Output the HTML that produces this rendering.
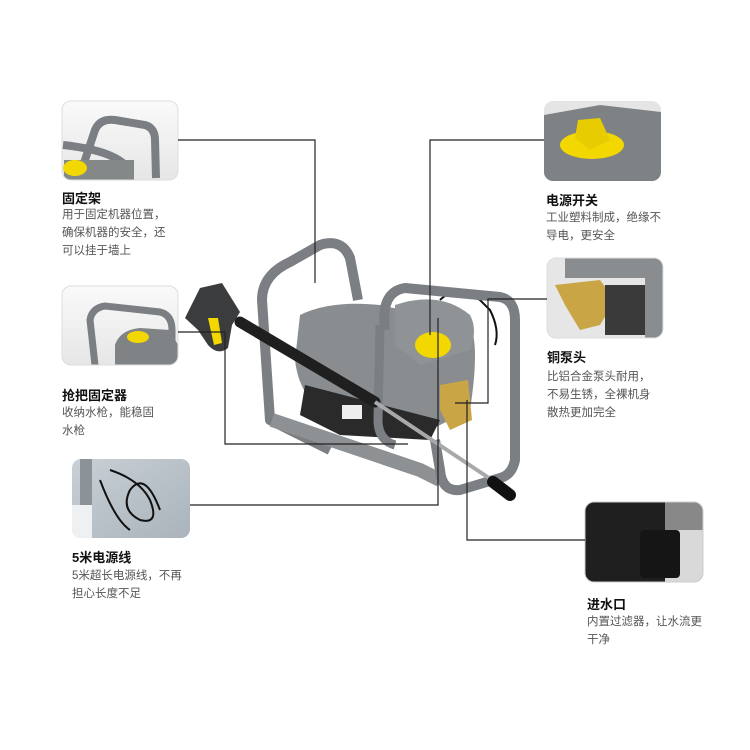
<!DOCTYPE html>
<html><head><meta charset="utf-8"><style>
body{margin:0;background:#fff;}
#c{position:relative;width:750px;height:750px;overflow:hidden;font-family:"Liberation Sans","Noto Sans CJK SC",sans-serif;}
.t{position:absolute;font-size:13px;font-weight:bold;color:#111;}
.d{position:absolute;font-size:11.5px;color:#555;line-height:18px;}
svg{position:absolute;left:0;top:0}
</style></head><body><div id="c">
<svg width="750" height="750" viewBox="0 0 750 750">
<defs>
<linearGradient id="bg1" x1="0" y1="0" x2="0" y2="1"><stop offset="0" stop-color="#fafafa"/><stop offset="1" stop-color="#e6e6e6"/></linearGradient>
<linearGradient id="bg2" x1="0" y1="0" x2="1" y2="1"><stop offset="0" stop-color="#c9d0d6"/><stop offset="1" stop-color="#aab3bb"/></linearGradient>
<clipPath id="k1"><rect x="62" y="101" width="116" height="79" rx="9"/></clipPath>
<clipPath id="k2"><rect x="62" y="286" width="116" height="79" rx="9"/></clipPath>
<clipPath id="k3"><rect x="72" y="459" width="118" height="79" rx="9"/></clipPath>
<clipPath id="k4"><rect x="544" y="101" width="117" height="80" rx="9"/></clipPath>
<clipPath id="k5"><rect x="547" y="258" width="116" height="80" rx="9"/></clipPath>
<clipPath id="k6"><rect x="585" y="502" width="118" height="80" rx="9"/></clipPath>
</defs>
<g clip-path="url(#k1)">
<rect x="62" y="101" width="116" height="79" fill="url(#bg1)"/>
<path d="M80 175 L95 130 Q100 118 115 120 L145 125 Q155 128 155 140 L156 178" fill="none" stroke="#7b7e82" stroke-width="8"/>
<path d="M63 145 Q110 150 125 165 L130 178" fill="none" stroke="#7b7e82" stroke-width="8"/>
<rect x="64" y="160" width="70" height="20" fill="#858889"/>
<ellipse cx="75" cy="168" rx="12" ry="8" fill="#f2d800"/>
</g>
<rect x="62" y="101" width="116" height="79" rx="9" fill="none" stroke="#ddd"/>
<g clip-path="url(#k2)">
<rect x="62" y="286" width="116" height="79" fill="url(#bg1)"/>
<path d="M95 365 L90 320 Q92 308 105 306 L160 312 Q172 315 172 330 L172 365" fill="none" stroke="#7b7e82" stroke-width="7"/>
<path d="M115 365 L115 345 Q120 330 140 328 L170 330 L178 345 L178 365 Z" fill="#808385"/>
<ellipse cx="138" cy="337" rx="11" ry="6" fill="#f2d800"/>
</g>
<rect x="62" y="286" width="116" height="79" rx="9" fill="none" stroke="#ddd"/>
<g clip-path="url(#k3)">
<rect x="72" y="459" width="118" height="79" fill="url(#bg2)"/>
<rect x="80" y="459" width="12" height="79" fill="#8d9296"/>
<rect x="72" y="505" width="20" height="33" fill="#eef0f2"/>
<path d="M110 470 Q140 480 150 500 Q160 525 140 520 Q120 510 130 490 Q145 470 160 510 M100 480 Q115 520 130 530" fill="none" stroke="#111" stroke-width="2"/>
</g>
<g clip-path="url(#k4)">
<rect x="544" y="101" width="117" height="80" fill="#e5e5e5"/>
<path d="M544 115 L600 105 L661 112 L661 181 L544 181 Z" fill="#7f8285"/>
<ellipse cx="592" cy="145" rx="32" ry="14" fill="#f2d800"/>
<path d="M578 120 L600 118 L610 140 L590 150 L575 138 Z" fill="#e6cc00"/>
</g>
<g clip-path="url(#k5)">
<rect x="547" y="258" width="116" height="80" fill="#e6e6e6"/>
<rect x="565" y="258" width="85" height="20" fill="#8a8d90"/>
<rect x="645" y="258" width="18" height="80" fill="#8a8d90"/>
<path d="M555 285 L600 280 L615 300 L600 325 L580 330 L565 305 Z" fill="#c9a545"/>
<rect x="605" y="285" width="40" height="50" fill="#3a3a3a"/>
</g>
<rect x="547" y="258" width="116" height="80" rx="9" fill="none" stroke="#ddd"/>
<g clip-path="url(#k6)">
<rect x="585" y="502" width="118" height="80" fill="#d9d9d9"/>
<rect x="585" y="502" width="80" height="80" fill="#1f1f1f"/>
<rect x="640" y="530" width="40" height="48" rx="4" fill="#151515"/>
<rect x="665" y="502" width="38" height="28" fill="#888"/>
</g>
<rect x="585" y="502" width="118" height="80" rx="9" fill="none" stroke="#ccc"/>
<!-- machine -->
<g>
<path d="M330 450 L270 420 L262 300 Q262 275 290 262 L320 245 Q342 238 350 258 L358 300" fill="none" stroke="#7b7e82" stroke-width="10" stroke-linejoin="round"/>
<path d="M272 420 L420 470 L440 480" fill="none" stroke="#8e9194" stroke-width="14"/>
<path d="M300 315 Q330 300 380 305 L470 325 Q480 345 470 410 L430 430 L340 420 Q300 405 295 360 Z" fill="#8a8d90"/>
<path d="M305 385 L300 415 L340 435 L430 440 L440 420 Z" fill="#2a2a2a"/>
<path d="M395 305 Q440 290 470 315 Q478 330 470 350 L420 365 L395 345 Z" fill="#909396"/>
<path d="M440 300 Q455 285 480 300 L490 310 Q500 330 495 345" fill="none" stroke="#111" stroke-width="2"/>
<ellipse cx="433" cy="345" rx="18" ry="13" fill="#f2d800"/>
<path d="M440 385 L468 380 L472 420 L450 430 L440 410 Z" fill="#c9a545"/>
<path d="M385 330 Q380 292 405 288 L500 297 Q515 300 515 320 L515 460 Q512 475 500 478 L460 490 Q442 492 440 470 L435 440" fill="none" stroke="#7b7e82" stroke-width="10" stroke-linejoin="round"/>
<path d="M380 325 L378 420 Q378 440 395 445" fill="none" stroke="#7b7e82" stroke-width="9"/>
<line x1="240" y1="322" x2="375" y2="402" stroke="#1f1f1f" stroke-width="11" stroke-linecap="round"/>
<line x1="375" y1="402" x2="492" y2="480" stroke="#a7a9ab" stroke-width="4"/>
<line x1="493" y1="482" x2="510" y2="495" stroke="#111" stroke-width="12" stroke-linecap="round"/>
<path d="M200 288 L222 283 L240 312 L232 325 L228 348 Q218 356 208 345 L198 330 L185 318 Z" fill="#3a3c3e"/>
<path d="M208 318 L214 345 L222 343 L218 318 Z" fill="#f2d800"/>
<rect x="342" y="405" width="20" height="14" fill="#eee"/>
</g>
<!-- connectors -->
<g fill="none" stroke="#222" stroke-width="1.2">
<polyline points="178,140 315,140 315,283"/>
<polyline points="544,140 430,140 430,335"/>
<polyline points="547,299 488,299 488,403 455,403"/>
<polyline points="178,332 225,332 225,444 408,444"/>
<polyline points="190,505 438,505 438,318"/>
<polyline points="585,540 467,540 467,400"/>
</g>
</svg>
<div class="t" style="left:62px;top:188px">固定架</div>
<div class="d" style="left:62px;top:206px">用于固定机器位置，<br>确保机器的安全，还<br>可以挂于墙上</div>
<div class="t" style="left:62px;top:385px">抢把固定器</div>
<div class="d" style="left:62px;top:404px">收纳水枪，能稳固<br>水枪</div>
<div class="t" style="left:72px;top:547px">5米电源线</div>
<div class="d" style="left:72px;top:567px">5米超长电源线，不再<br>担心长度不足</div>
<div class="t" style="left:546px;top:190px">电源开关</div>
<div class="d" style="left:546px;top:209px">工业塑料制成，绝缘不<br>导电，更安全</div>
<div class="t" style="left:547px;top:347px">铜泵头</div>
<div class="d" style="left:547px;top:368px">比铝合金泵头耐用，<br>不易生锈，全裸机身<br>散热更加完全</div>
<div class="t" style="left:587px;top:594px">进水口</div>
<div class="d" style="left:587px;top:613px">内置过滤器，让水流更<br>干净</div>
</div></body></html>
